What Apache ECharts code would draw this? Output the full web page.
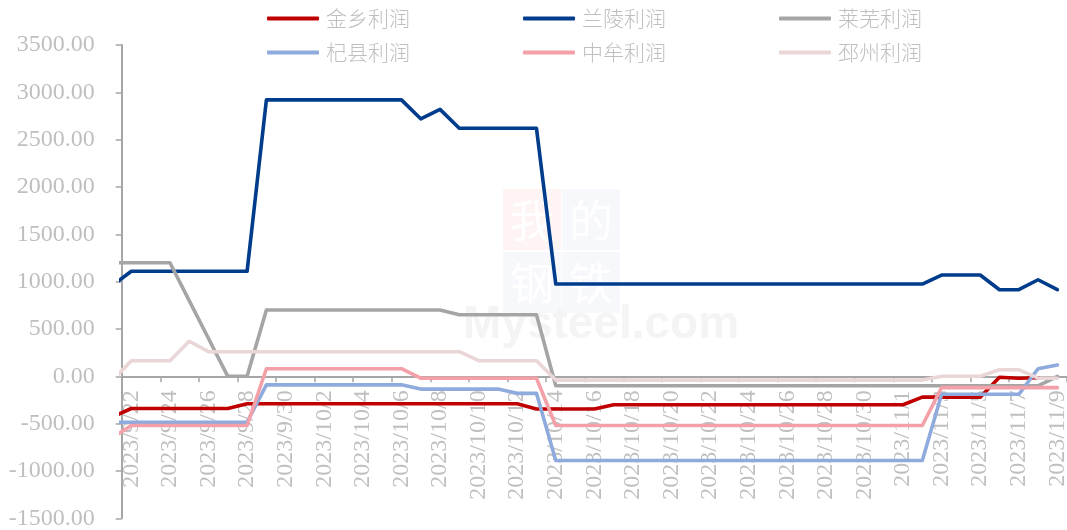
<!DOCTYPE html>
<html>
<head>
<meta charset="utf-8">
<title>利润</title>
<script src="https://cdn.jsdelivr.net/npm/echarts@6.0.0/dist/echarts.min.js"></script>
<style>
  html, body { margin: 0; padding: 0; background: #fff; }
  #main { width: 1067px; height: 530px; }
</style>
</head>
<body>
<div id="main"></div>
<script>
// 横轴日期 2023/9/22 ~ 2023/11/9
var dates = [
  '2023/9/22','2023/9/23','2023/9/24','2023/9/25','2023/9/26','2023/9/27','2023/9/28','2023/9/29','2023/9/30',
  '2023/10/1','2023/10/2','2023/10/3','2023/10/4','2023/10/5','2023/10/6','2023/10/7','2023/10/8','2023/10/9',
  '2023/10/10','2023/10/11','2023/10/12','2023/10/13','2023/10/14','2023/10/15','2023/10/16','2023/10/17',
  '2023/10/18','2023/10/19','2023/10/20','2023/10/21','2023/10/22','2023/10/23','2023/10/24','2023/10/25',
  '2023/10/26','2023/10/27','2023/10/28','2023/10/29','2023/10/30','2023/10/31','2023/11/1','2023/11/2',
  '2023/11/3','2023/11/4','2023/11/5','2023/11/6','2023/11/7','2023/11/8','2023/11/9'
];
// 每个序列第一个值是 2023/9/21（在坐标轴左侧，被裁掉）
var jinxiang = [-430,
  -340,-340,-340,-340,-340,-340,-290,-290,-290,-290,-290,-290,-290,-290,-290,-290,-290,-290,-290,-290,-290,
  -345,-345,-345,-345,-300,-300,-300,-300,-300,-300,-300,-300,-300,-300,-300,-300,-300,-300,-300,-300,
  -220,-220,-220,-220,-10,-20,-15];
var lanling = [958,
  1110,1110,1110,1110,1110,1110,1110,2920,2920,2920,2920,2920,2920,2920,2920,2720,2820,2620,2620,2620,2620,2620,
  975,975,975,975,975,975,975,975,975,975,975,975,975,975,975,975,975,975,975,975,
  1070,1070,1070,915,915,1020,915];
var laiwu = [1200,
  1200,1200,1200,800,400,0,0,700,700,700,700,700,700,700,700,700,700,650,650,650,650,650,
  -100,-100,-100,-100,-100,-100,-100,-100,-100,-100,-100,-100,-100,-100,-100,-100,-100,-100,-100,-100,
  -100,-100,-100,-100,-100,-100,0];
var qixian = [-485,
  -485,-485,-485,-485,-485,-485,-485,-90,-90,-90,-90,-90,-90,-90,-90,-135,-135,-135,-135,-135,-180,-180,
  -890,-890,-890,-890,-890,-890,-890,-890,-890,-890,-890,-890,-890,-890,-890,-890,-890,-890,-890,-890,
  -190,-190,-190,-190,-190,80,120];
var zhongmu = [-650,
  -520,-520,-520,-520,-520,-520,-520,80,80,80,80,80,80,80,80,-20,-20,-20,-20,-20,-20,-20,
  -520,-520,-520,-520,-520,-520,-520,-520,-520,-520,-520,-520,-520,-520,-520,-520,-520,-520,-520,-520,
  -120,-120,-120,-120,-120,-120,-120];
var pizhou = [-50,
  165,165,165,370,260,260,260,260,260,260,260,260,260,260,260,260,260,260,165,165,165,165,
  -40,-40,-40,-40,-40,-40,-40,-40,-40,-40,-40,-40,-40,-40,-40,-40,-40,-40,-40,-40,
  0,0,0,70,70,-20,-20];
var yMin = -1500, yMax = 3500, yStep = 500;

var names = ['金乡利润','兰陵利润','莱芜利润','杞县利润','中牟利润','邳州利润'];
var colors = ['#C00000','#003C8C','#A5A5A5','#8FAADC','#F4A0A8','#EAD6D6'];
var values = [jinxiang, lanling, laiwu, qixian, zhongmu, pizhou];

function toPairs(arr) {
  // 下标 -1 对应 9/21
  return arr.map(function (v, i) { return [i - 1, v]; });
}

var axisColor = '#A6A6A6';
var labelColor = '#BFBFBF';

// 绘图区
var gTop = 45, gBottom = 11.7, gH = 530 - gTop - gBottom;
// 横轴画在 0 的位置
var zeroOffset = -gH * (0 - yMin) / (yMax - yMin);

var myChart = echarts.init(document.getElementById('main'));

var series = names.map(function (n, k) {
  return {
    name: n,
    type: 'line',
    xAxisIndex: 1,
    data: toPairs(values[k]),
    showSymbol: false,
    symbol: 'none',
    clip: true,
    color: colors[k],
    lineStyle: { width: 3.6, color: colors[k], cap: 'round', join: 'round' },
    emphasis: { disabled: true }
  };
});

function legendOf(items, top) {
  return {
    data: items,
    top: top,
    left: 267,
    padding: 0,
    icon: 'roundRect',
    itemWidth: 52,
    itemHeight: 4,
    itemGap: 113,
    selectedMode: false,
    textStyle: { color: labelColor, fontSize: 21, fontWeight: 300, fontFamily: 'Noto Sans CJK SC', padding: [0, 0, 0, 2] }
  };
}

var wmBox = function (x, y, fill, ch) {
  return {
    type: 'group', left: x, top: y, z: 0, silent: true,
    children: [
      { type: 'rect', shape: { x: 0, y: 0, width: 58, height: 61 }, style: { fill: fill } },
      { type: 'text', x: 29, y: 31, style: { text: ch, fill: '#ffffff', font: '44px "Noto Sans CJK SC"', align: 'center', verticalAlign: 'middle' } }
    ]
  };
};

var option = {
  animation: false,
  backgroundColor: '#ffffff',
  grid: { left: 121.7, right: 0, top: gTop, bottom: gBottom, containLabel: false, outerBoundsMode: 'none' },
  legend: [
    legendOf(names.slice(0, 3), 8),
    legendOf(names.slice(3, 6), 42)
  ],
  graphic: [
    wmBox(503, 189, '#FEF4F4', '我'),
    wmBox(562, 189, '#F6F8FC', '的'),
    wmBox(503, 252, '#F6F8FC', '钢'),
    wmBox(562, 252, '#F6F8FC', '铁'),
    {
      type: 'text', left: 463, top: 302, z: 0, silent: true,
      style: { text: 'Mysteel.com', fill: '#F4F4F4', font: 'bold 46px "Liberation Sans"' }
    }
  ],
  xAxis: [
    {
      type: 'category',
      position: 'bottom',
      offset: zeroOffset,
      data: dates,
      boundaryGap: true,
      axisLine: { onZero: false, lineStyle: { color: axisColor, width: 2 } },
      axisTick: { show: true, interval: 1, length: 6, lineStyle: { color: axisColor, width: 1.5 } },
      axisLabel: {
        interval: 1, rotate: 90, margin: 14,
        color: labelColor, fontSize: 24, fontFamily: 'Liberation Serif'
      },
      splitLine: { show: false }
    },
    {
      type: 'value',
      show: false,
      min: -0.5,
      max: dates.length - 0.5,
      splitLine: { show: false }
    }
  ],
  yAxis: {
    type: 'value',
    min: yMin,
    max: yMax,
    interval: yStep,
    axisLine: { show: true, onZero: false, lineStyle: { color: axisColor, width: 2 } },
    axisTick: { show: true, length: 6, lineStyle: { color: axisColor, width: 1.5 } },
    axisLabel: {
      margin: 27, color: labelColor, fontSize: 24, fontFamily: 'Liberation Serif',
      formatter: function (v) { return v.toFixed(2); }
    },
    splitLine: { show: false }
  },
  series: series
};
myChart.setOption(option);
</script>
</body>
</html>
